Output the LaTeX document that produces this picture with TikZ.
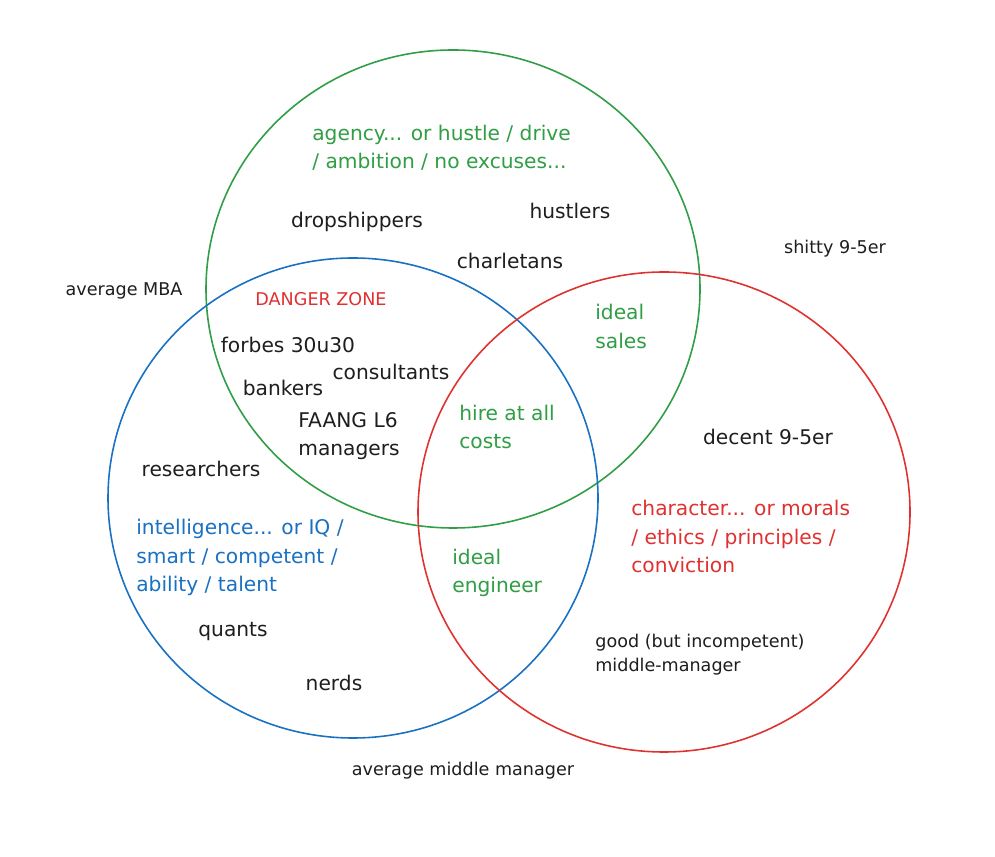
\documentclass[tikz,border=0pt]{standalone}
\usepackage{fontspec}
\setmainfont{DejaVu Sans}
\usepackage{xcolor}
\usepackage{tikz}
\definecolor{vennGreen} {RGB}{47,  158, 68}
\definecolor{vennBlue}  {RGB}{25,  113, 194}
\definecolor{vennRed}   {RGB}{224, 49,  49}
\definecolor{inkBlack}  {RGB}{30,  30,  30}

\begin{document}
\begin{tikzpicture}[
    ring/.style={line width=0.9pt},
    tag/.style={inkBlack,inner sep=0pt,font=\fontsize{11.5}{16}\selectfont},
    note/.style={inkBlack,inner sep=0pt,font=\fontsize{10}{14}\selectfont},
    trait/.style={inner sep=0pt,anchor=west,align=left,font=\fontsize{11.5}{16}\selectfont}]

    \fill[white] (0,0) rectangle (19.9,17.12);
    \useasboundingbox (0,0) rectangle (19.9,17.12);

    % circulos
    \draw[ring,vennGreen] (9.06,11.34) ellipse [x radius=4.94,y radius=4.78];
    \draw[ring,vennBlue]  (7.06,7.16)  ellipse [x radius=4.90,y radius=4.80];
    \draw[ring,vennRed]   (13.28,6.88) ellipse [x radius=4.92,y radius=4.80];

    % agency
    \node[trait,vennGreen] (agency) at (6.24,14.16)
      {agency... or hustle / drive\\/ ambition / no excuses...};
    \node[tag] (dropship) at (7.14,12.68){dropshippers};
    \node[tag] (hustlers) at (11.40,12.90){hustlers};
    \node[tag] (charlet)  at (10.20,11.90){charletans};

    % agency + intelligence
    \node[note,vennRed] (danger) at (6.42,11.14){DANGER ZONE};
    \node[tag] (forbes)  at (5.76,10.22){forbes 30u30};
    \node[tag] (consult) at (7.82,9.68){consultants};
    \node[tag] (bankers) at (5.66,9.36){bankers};
    \node[tag,anchor=west,align=left] (faang) at (5.96,8.39){FAANG L6\\managers};

    % agency + character
    \node[trait,vennGreen] (sales) at (11.90,10.59){ideal\\sales};

    % todos
    \node[trait,vennGreen] (hire) at (9.18,8.58){hire at all\\costs};

    % intelligence
    \node[tag] (research) at (4.02,7.74){researchers};
    \node[trait,vennBlue] (intel) at (2.72,5.97)
      {intelligence... or IQ /\\smart / competent /\\ability / talent};
    \node[tag] (quants) at (4.66,4.48){quants};
    \node[tag] (nerds)  at (6.68,3.46){nerds};

    % intelligence + character
    \node[trait,vennGreen] (engineer) at (9.04,5.67){ideal\\engineer};

    % character
    \node[tag] (decent) at (15.36,8.38){decent 9-5er};
    \node[trait,vennRed] (charact) at (12.62,6.39)
      {character... or morals\\/ ethics / principles /\\conviction};
    \node[note,anchor=west,align=left] (goodmm) at (11.90,4.03)
      {good (but incompetent)\\middle-manager};

    % fora
    \node[note] (mba)    at (2.48,11.30){average MBA};
    \node[note] (shitty) at (16.70,12.14){shitty 9-5er};
    \node[note] (avgmm)  at (9.26,1.70){average middle manager};

\end{tikzpicture}
\end{document}
